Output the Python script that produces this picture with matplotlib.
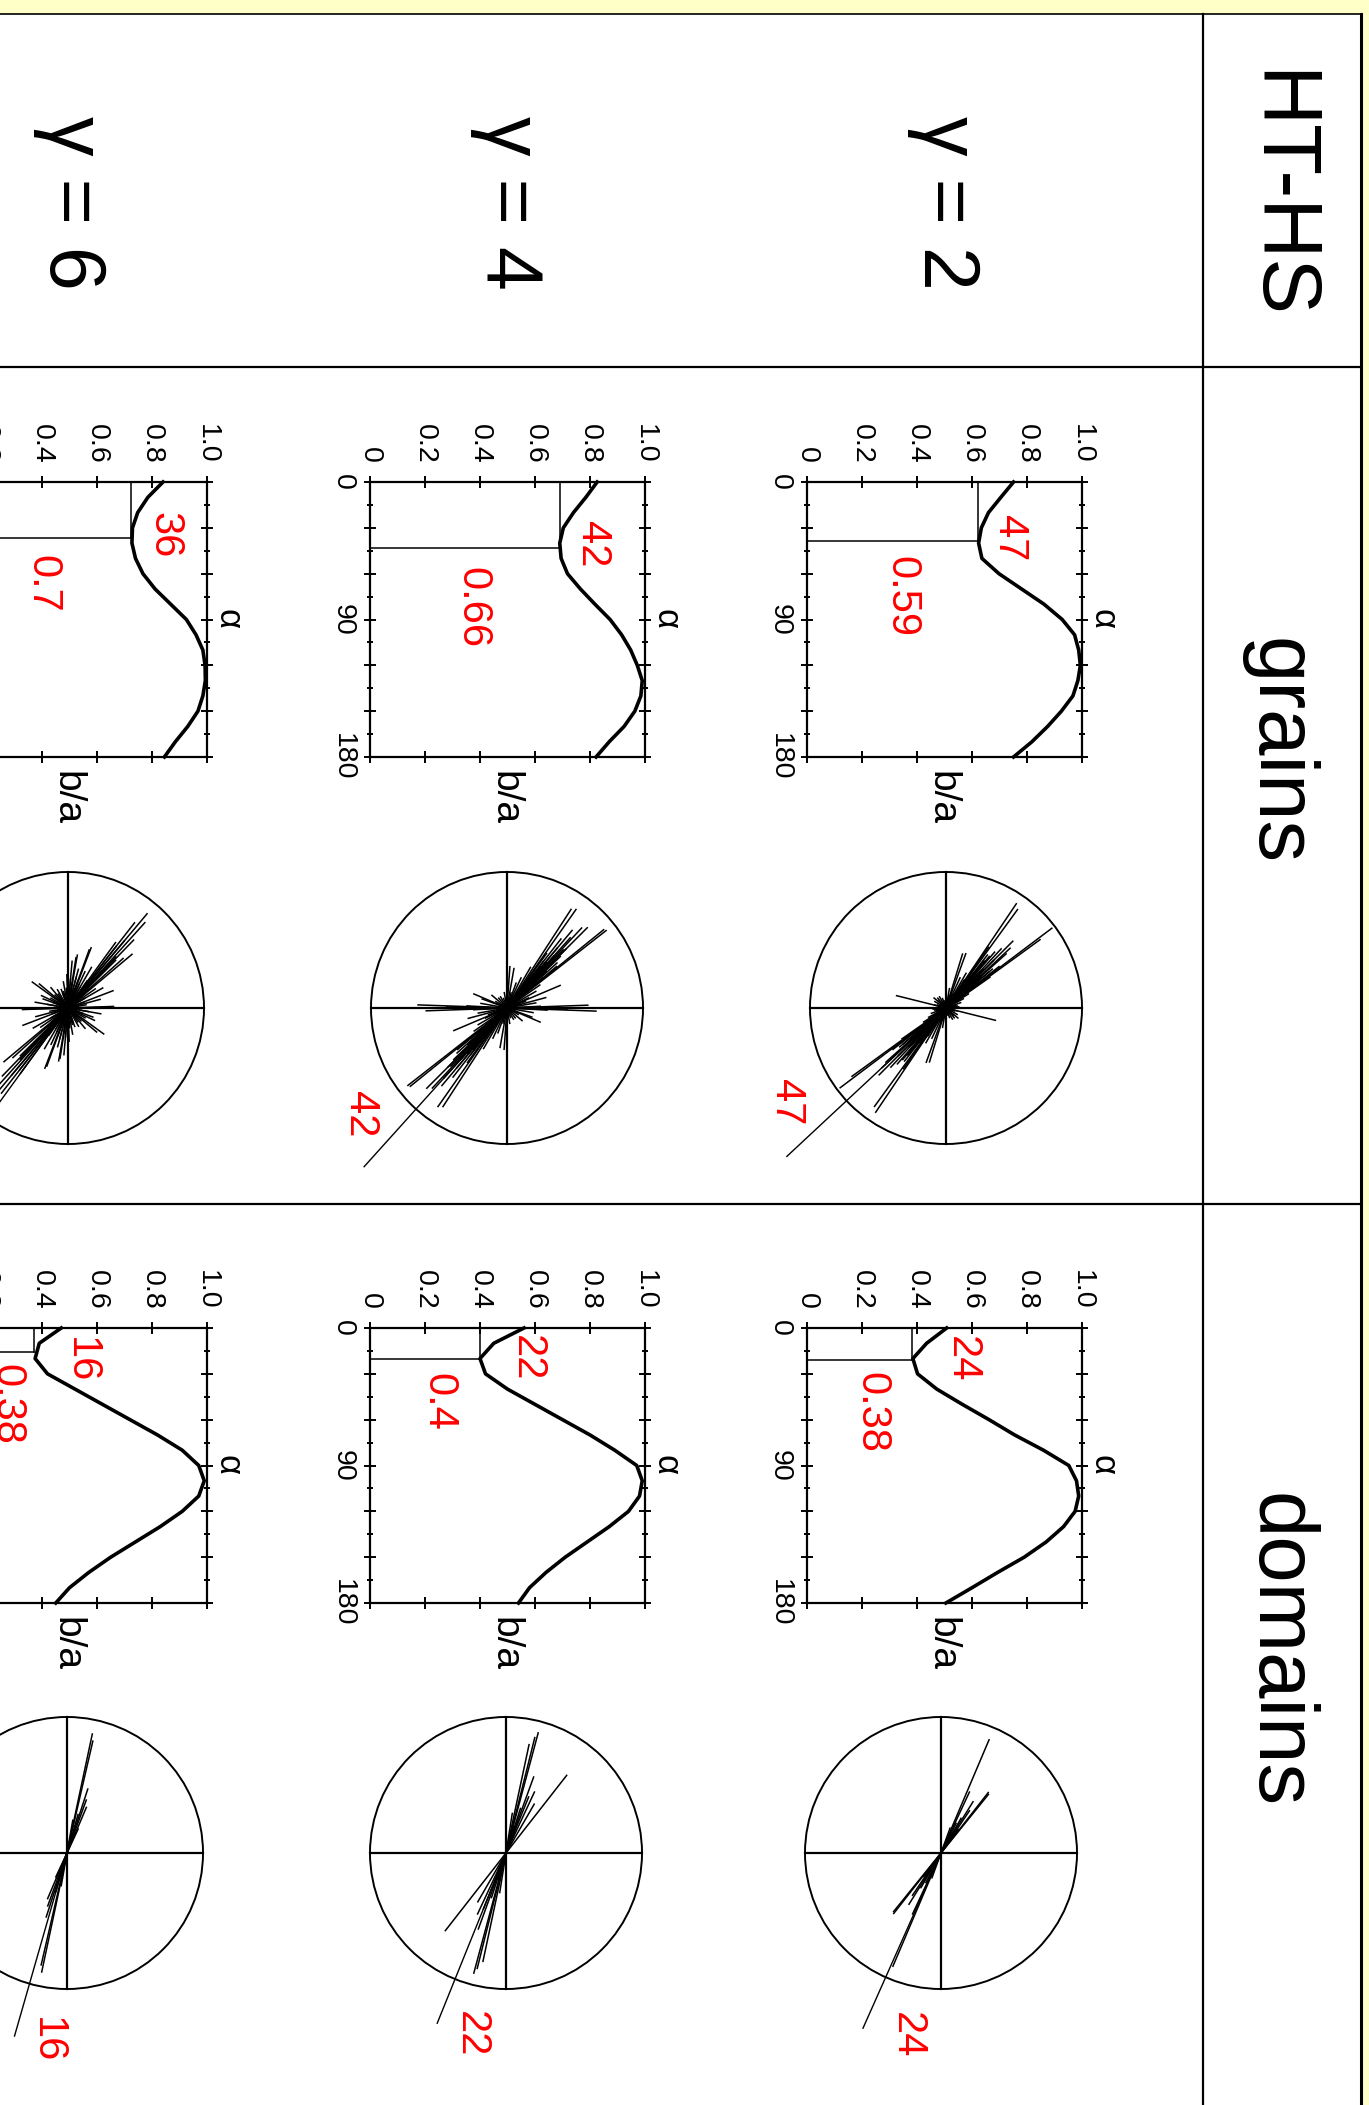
import matplotlib
matplotlib.use("Agg")
import matplotlib.pyplot as plt
from matplotlib.patches import Rectangle, Circle
from matplotlib.collections import LineCollection
from matplotlib.ticker import MultipleLocator, FixedLocator
import numpy as np

plt.rcParams['font.family'] = ['Liberation Sans', 'DejaVu Sans']

# ---- data ----
gamma_labels = ['γ = 2', 'γ = 4', 'γ = 6']
row_titles = ['HT-HS', 'grains', 'domains']

alpha = [0, 10, 20, 30, 40, 50, 60, 70, 80, 90, 100, 110, 120, 130, 140, 150, 160, 170, 180]

ba_grains_g2 = [0.751, 0.705, 0.660, 0.634, 0.624, 0.636, 0.698, 0.780, 0.862, 0.928,
                0.973, 0.988, 0.994, 0.985, 0.967, 0.925, 0.875, 0.818, 0.751]
ba_grains_g4 = [0.826, 0.785, 0.740, 0.703, 0.690, 0.695, 0.718, 0.765, 0.818, 0.873,
                0.915, 0.948, 0.972, 0.990, 0.985, 0.963, 0.924, 0.870, 0.822]
ba_grains_g6 = [0.840, 0.785, 0.748, 0.729, 0.727, 0.740, 0.767, 0.811, 0.868, 0.925,
                0.960, 0.985, 0.993, 0.994, 0.985, 0.967, 0.930, 0.885, 0.845]
ba_domains_g2 = [0.508, 0.435, 0.385, 0.402, 0.472, 0.565, 0.662, 0.755, 0.860, 0.952,
                 0.980, 0.988, 0.975, 0.933, 0.870, 0.790, 0.693, 0.600, 0.505]
ba_domains_g4 = [0.56, 0.45, 0.40, 0.42, 0.50, 0.60, 0.70, 0.80, 0.89, 0.97,
                 0.99, 0.98, 0.94, 0.87, 0.79, 0.71, 0.64, 0.58, 0.54]
ba_domains_g6 = [0.47, 0.39, 0.375, 0.42, 0.52, 0.62, 0.72, 0.82, 0.91, 0.97,
                 0.99, 0.97, 0.91, 0.83, 0.74, 0.65, 0.57, 0.50, 0.45]

# minimum marker (b/a, alpha)
min_ba_grains = [0.623, 0.690, 0.724]
min_alpha_grains = [38.6, 43.2, 36.7]
min_ba_domains = [0.383, 0.40, 0.37]
min_alpha_domains = [20.8, 20.0, 16.0]

# red annotations
angle_text_grains = ['47', '42', '36']
ratio_text_grains = ['0.59', '0.66', '0.7']
angle_text_domains = ['24', '22', '16']
ratio_text_domains = ['0.38', '0.4', '0.38']

# rose diagrams: orientation (deg, clockwise from up) and half length (fraction of radius)
rose_grains_g2_ang = [34, 36, 40, 53, 54, 17, 20, 104, 130, 45, 47, 43, 41, 38, 50, 48, 44, 46,
                      42, 39, 37, 49, 52, 33, 30, 58, 62, 25, 70, 85, 120, 150, 10, 160, 45,
                      44, 48, 40, 42, 46, 55, 35,
                      0, 15, 30, 60, 75, 90, 105, 135, 165, 20, 50, 80, 110, 140, 45, 40, 50,
                      43, 47, 41, 49, 38, 52, 44, 46]
rose_grains_g2_len = [0.93, 0.90, 0.50, 0.98, 0.86, 0.42, 0.43, 0.38, 0.12, 0.70, 0.65, 0.60,
                      0.55, 0.50, 0.45, 0.60, 0.40, 0.35, 0.30, 0.45, 0.30, 0.35, 0.50, 0.25,
                      0.30, 0.20, 0.15, 0.25, 0.12, 0.10, 0.10, 0.10, 0.15, 0.08, 0.25, 0.20,
                      0.20, 0.15, 0.18, 0.22, 0.40, 0.55,
                      0.08, 0.10, 0.12, 0.10, 0.08, 0.07, 0.09, 0.08, 0.06, 0.12, 0.14, 0.09,
                      0.07, 0.10, 0.50, 0.45, 0.42, 0.38, 0.36, 0.32, 0.28, 0.33, 0.30, 0.27,
                      0.24]
rose_grains_g4_ang = [33, 43, 51, 52, 45, 35, 90, 92, 88, 91, 67, 4, 10, 113, 110, 40, 42, 38,
                      44, 46, 48, 36, 41, 39, 47, 50, 30, 55, 60, 25, 75, 80, 100, 130, 150,
                      20, 0, 170, 43, 37,
                      89, 93, 87, 90, 15, 120, 140, 160, 65, 70, 45, 40, 50, 42, 38, 44]
rose_grains_g4_len = [0.87, 0.81, 0.92, 0.93, 0.84, 0.89, 0.69, 0.66, 0.60, 0.45, 0.43, 0.31,
                      0.30, 0.27, 0.20, 0.75, 0.70, 0.65, 0.60, 0.55, 0.50, 0.50, 0.45, 0.40,
                      0.40, 0.35, 0.35, 0.30, 0.25, 0.25, 0.30, 0.22, 0.20, 0.15, 0.10, 0.20,
                      0.18, 0.12, 0.30, 0.28,
                      0.40, 0.30, 0.25, 0.55, 0.12, 0.10, 0.10, 0.08, 0.18, 0.15, 0.62, 0.58,
                      0.48, 0.52, 0.44, 0.36]
rose_grains_g6_ang = [40, 42, 38, 50, 48, 20, 21, 10, 9, 126, 69, 89, 88, 44, 36, 45, 30, 15,
                      0, 5, 60, 75, 100, 110, 140, 160, 25, 35, 55, 170, 178, 130, 115,
                      0, 10, 20, 30, 40, 50, 60, 80, 100, 120, 135, 150, 165, 175, 5, 15,
                      25, 45, 70, 90, 110, 145, 160, 40, 38, 43]
rose_grains_g6_len = [0.91, 0.85, 0.80, 0.62, 0.55, 0.46, 0.48, 0.40, 0.38, 0.33, 0.36, 0.34,
                      0.34, 0.70, 0.60, 0.50, 0.35, 0.30, 0.30, 0.35, 0.30, 0.25, 0.25, 0.20,
                      0.20, 0.15, 0.30, 0.25, 0.25, 0.20, 0.25, 0.28, 0.22,
                      0.18, 0.20, 0.22, 0.18, 0.20, 0.17, 0.15, 0.14, 0.16, 0.15, 0.14, 0.16,
                      0.13, 0.15, 0.22, 0.24, 0.20, 0.21, 0.13, 0.12, 0.12, 0.13, 0.12, 0.65,
                      0.58, 0.52]
rose_domains_g2_ang = [23, 39, 34, 30, 27, 36, 20, 25, 32, 38, 28, 33]
rose_domains_g2_len = [0.91, 0.56, 0.38, 0.30, 0.25, 0.22, 0.20, 0.50, 0.45, 0.57, 0.15, 0.12]
rose_domains_g4_ang = [15, 12, 38, 20, 25, 30, 18, 9, 14, 22, 16]
rose_domains_g4_len = [0.92, 0.82, 0.73, 0.60, 0.50, 0.42, 0.35, 0.30, 0.88, 0.45, 0.20]
rose_domains_g6_ang = [12, 13, 23, 20, 16, 18, 10, 25, 14]
rose_domains_g6_len = [0.90, 0.85, 0.37, 0.42, 0.30, 0.50, 0.25, 0.20, 0.15]

# main (long) orientation line: angle and length
main_ang_grains = [47, 42, 36]
main_len_grains = [1.6, 1.57, 1.6]
main_ang_domains = [24, 22, 16]
main_len_domains = [1.41, 1.35, 1.4]

# ---- layout (pixels) ----
W, H = 1369, 2105
YELLOW = '#ffffc8'
RED = '#ff0000'
ROT = -90

fig = plt.figure(figsize=(W / 100, H / 100), dpi=100, facecolor=YELLOW)


def px_axes(x0, y0, w, h):
    return fig.add_axes([x0 / W, 1 - (y0 + h) / H, w / W, h / H])


bg = fig.add_axes([0, 0, 1, 1])
bg.set_xlim(0, W)
bg.set_ylim(H, 0)
bg.axis('off')
bg.add_patch(Rectangle((-10, 14), 1371, 2200, facecolor='white', edgecolor='none'))
bg.plot([-10, 1361], [14, 14], color='k', lw=1.2)
bg.plot([1361, 1361], [14, 2120], color='k', lw=2.2)
bg.plot([1203, 1203], [14, 2120], color='k', lw=1.6)
bg.plot([-10, 1361], [367, 367], color='k', lw=1.6)
bg.plot([-10, 1361], [1204, 1204], color='k', lw=1.6)

for txt, y in zip(row_titles, [195, 752, 1651]):
    bg.text(1256, y, txt, rotation=ROT, rotation_mode='anchor', ha='center',
            va='baseline', fontsize=60)
for txt, x in zip(gamma_labels, [924, 487, 50]):
    bg.text(x, 203, txt, rotation=ROT, rotation_mode='anchor', ha='center',
            va='baseline', fontsize=57)

col_x = [807, 370, -68]
SIZE = 275
R = 136
LIM = 1.7

curve_rows = [
    (482, [ba_grains_g2, ba_grains_g4, ba_grains_g6], min_ba_grains, min_alpha_grains,
     angle_text_grains, ratio_text_grains,
     [(0.735, 36.7), (0.806, 40.6), (0.847, 34.7)],
     [(0.345, 75.3), (0.372, 82.5), (0.40, 67)]),
    (1328, [ba_domains_g2, ba_domains_g4, ba_domains_g6], min_ba_domains, min_alpha_domains,
     angle_text_domains, ratio_text_domains,
     [(0.562, 20.3), (0.57, 19.6), (0.54, 21.0)],
     [(0.234, 55.0), (0.25, 48.4), (0.27, 50.0)]),
]

for y0, series, mba, mal, atxt, rtxt, apos, rpos in curve_rows:
    for i in range(3):
        ax = px_axes(col_x[i], y0, SIZE, SIZE)
        ax.set_facecolor('none')
        ax.plot(series[i], alpha, color='k', lw=2.6, clip_on=False, zorder=3)
        ax.plot([mba[i], mba[i]], [0, mal[i]], color='k', lw=1.1)
        ax.plot([0, mba[i]], [mal[i], mal[i]], color='k', lw=1.1)
        ax.set_xlim(0, 1)
        ax.set_ylim(180, 0)
        ax.xaxis.set_major_locator(FixedLocator([0, 0.2, 0.4, 0.6, 0.8, 1.0]))
        ax.set_xticklabels(['0', '0.2', '0.4', '0.6', '0.8', '1.0'], rotation=ROT)
        ax.yaxis.set_major_locator(FixedLocator([0, 30, 60, 90, 120, 150, 180]))
        ax.set_yticklabels(['0', '', '', '90', '', '', '180'], rotation=ROT, va='center')
        ax.yaxis.set_minor_locator(MultipleLocator(15))
        ax.xaxis.tick_top()
        ax.tick_params(which='both', top=True, bottom=True, left=True, right=True,
                       labeltop=True, labelbottom=False, labelleft=True, labelright=False,
                       direction='inout', width=1.4, labelsize=20.5)
        ax.tick_params(axis='x', which='major', length=9, pad=9)
        ax.tick_params(axis='y', which='major', length=9, pad=6)
        ax.tick_params(which='minor', length=5)
        for sp in ax.spines.values():
            sp.set_linewidth(1.6)
        ax.text(0.49, -0.15, 'b/a', transform=ax.transAxes, rotation=ROT,
                ha='center', va='center', fontsize=28)
        ax.text(1.075, 0.5, 'α', transform=ax.transAxes, rotation=ROT,
                ha='center', va='center', fontsize=25)
        ax.text(apos[i][0], apos[i][1], atxt[i], color=RED, rotation=ROT,
                ha='center', va='center', fontsize=30)
        ax.text(rpos[i][0], rpos[i][1], rtxt[i], color=RED, rotation=ROT,
                ha='center', va='center', fontsize=30)

rose_rows = [
    ([(946, 1008), (507, 1008), (68, 1008)],
     [(rose_grains_g2_ang, rose_grains_g2_len), (rose_grains_g4_ang, rose_grains_g4_len),
      (rose_grains_g6_ang, rose_grains_g6_len)],
     main_ang_grains, main_len_grains, angle_text_grains,
     [(-1.18, -0.69), (-1.08, -0.78), (-1.05, -0.80)]),
    ([(941, 1853), (506, 1853), (67, 1853)],
     [(rose_domains_g2_ang, rose_domains_g2_len), (rose_domains_g4_ang, rose_domains_g4_len),
      (rose_domains_g6_ang, rose_domains_g6_len)],
     main_ang_domains, main_len_domains, angle_text_domains,
     [(-0.25, -1.34), (-0.26, -1.33), (-0.15, -1.38)]),
]

box = 2 * LIM * R
for centers, roses, mang, mlen, labels, lpos in rose_rows:
    for i in range(3):
        cx, cy = centers[i]
        ax = px_axes(cx - box / 2, cy - box / 2, box, box)
        ax.set_xlim(-LIM, LIM)
        ax.set_ylim(-LIM, LIM)
        ax.set_aspect('equal')
        ax.axis('off')
        ax.add_patch(Circle((0, 0), 1, fill=False, lw=1.4, color='k'))
        ax.plot([-1, 1], [0, 0], color='k', lw=1.6)
        ax.plot([0, 0], [-1, 1], color='k', lw=1.6)
        t = np.radians(roses[i][0])
        h = np.array(roses[i][1])
        segs = [[(-hh * np.sin(tt), -hh * np.cos(tt)), (hh * np.sin(tt), hh * np.cos(tt))]
                for tt, hh in zip(t, h)]
        ax.add_collection(LineCollection(segs, colors='k', linewidths=1.1))
        tm = np.radians(mang[i])
        ax.plot([0, -mlen[i] * np.sin(tm)], [0, -mlen[i] * np.cos(tm)], color='k', lw=1.0)
        ax.text(lpos[i][0], lpos[i][1], labels[i], color=RED, rotation=ROT,
                ha='center', va='center', fontsize=30)

fig.savefig('out.png', dpi=100, facecolor=YELLOW)
